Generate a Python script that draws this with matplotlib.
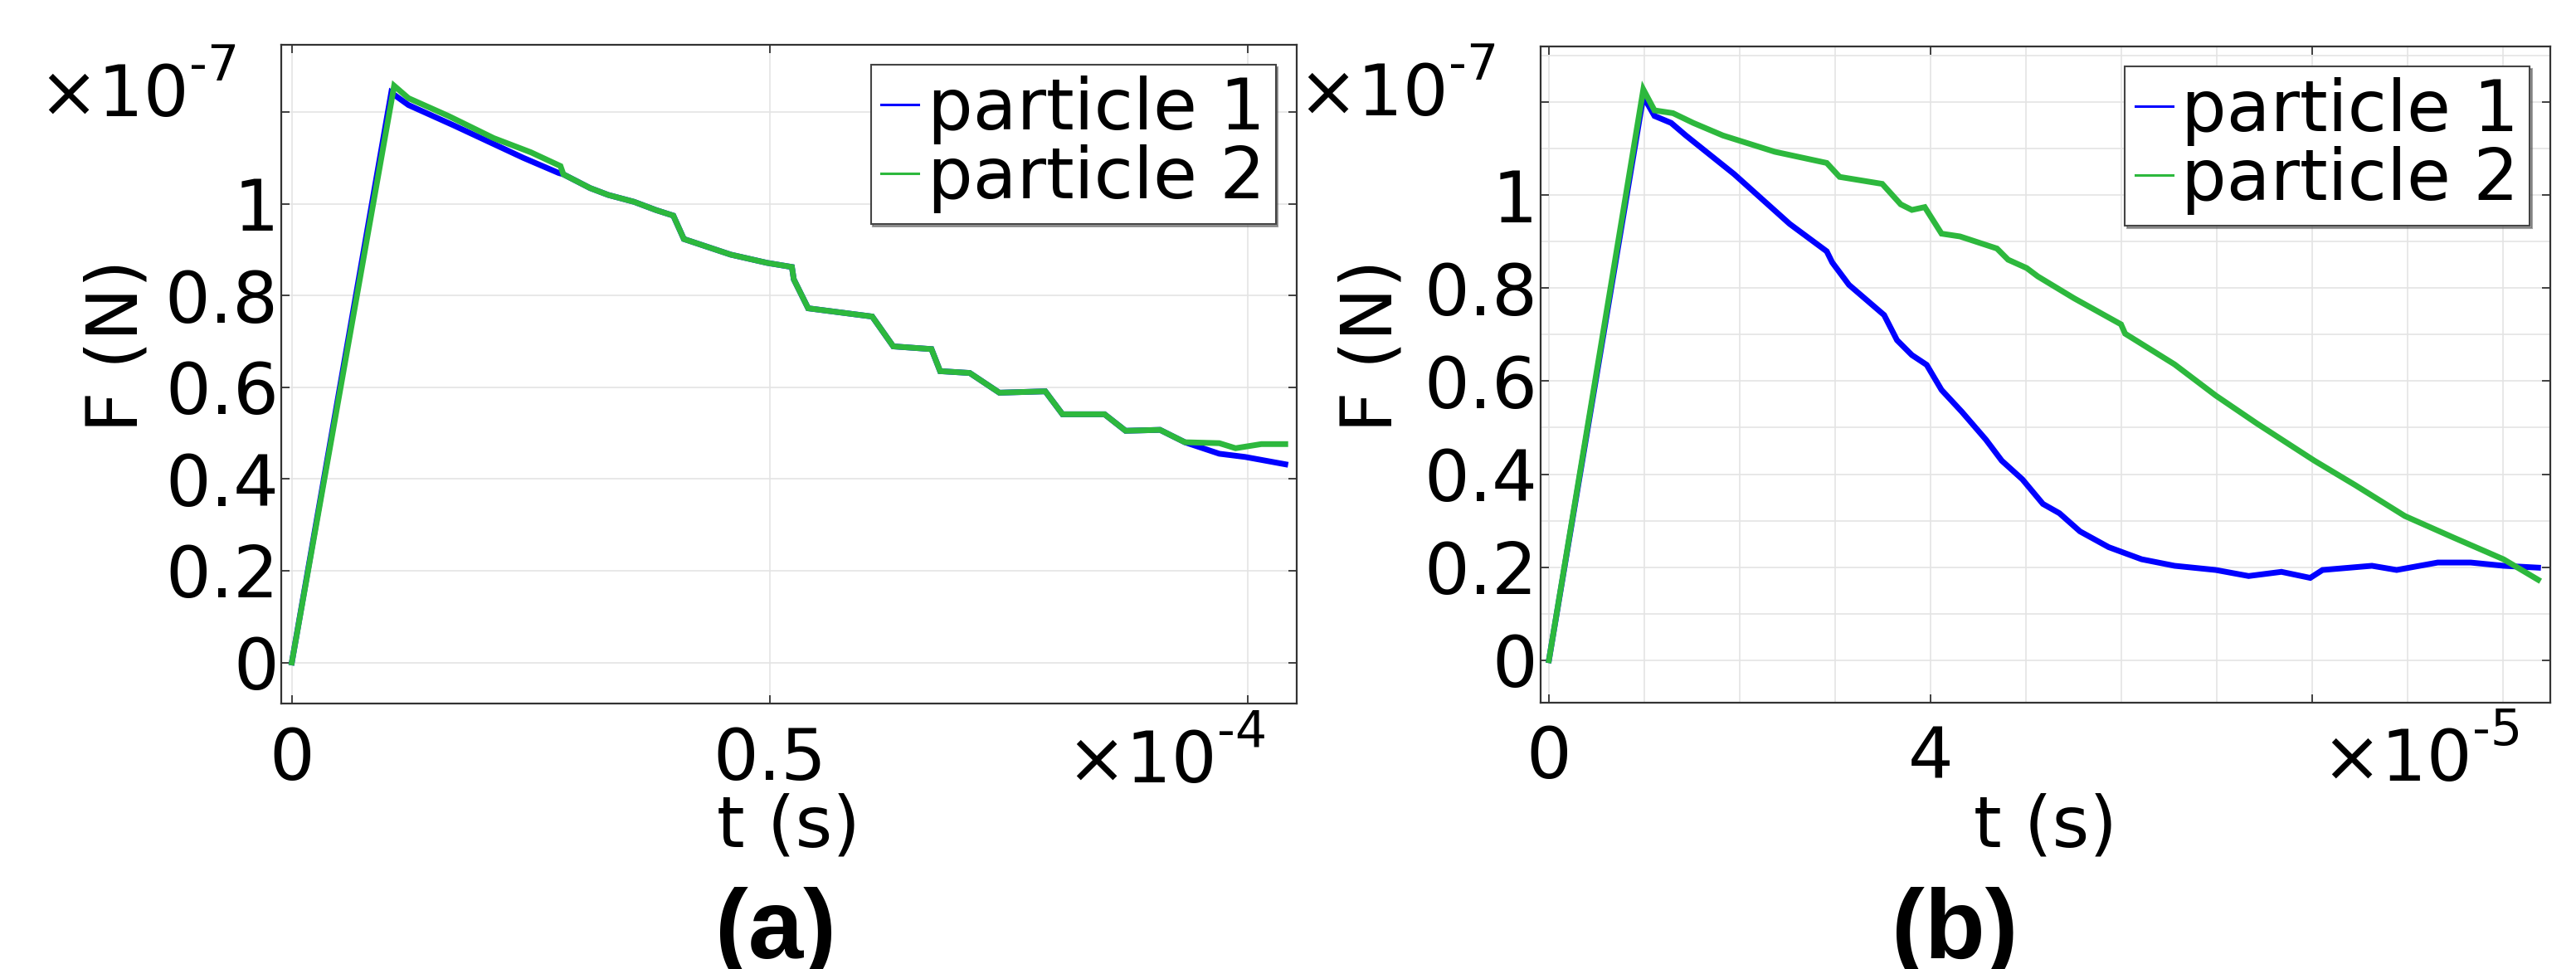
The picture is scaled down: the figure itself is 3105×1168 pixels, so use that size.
import matplotlib
matplotlib.use("Agg")
import matplotlib.pyplot as plt
from matplotlib.ticker import MultipleLocator

plt.rcParams['font.family'] = ['DejaVu Sans']

# ---------------- data (t in units of 1e-4 s for (a), 1e-5 s for (b); F in 1e-7 N)
a_t_p1 = [0, 0.104, 0.122, 0.170, 0.242, 0.279, 0.284, 0.312, 0.331, 0.358, 0.381, 0.399,
          0.410, 0.459, 0.497, 0.523, 0.525, 0.540, 0.607, 0.629, 0.669, 0.678, 0.709,
          0.740, 0.788, 0.806, 0.850, 0.872, 0.908, 0.934, 0.970, 0.997, 1.039]
a_F_p1 = [0, 1.242, 1.215, 1.170, 1.100, 1.067, 1.064, 1.034, 1.019, 1.004, 0.986, 0.974,
          0.923, 0.889, 0.871, 0.862, 0.835, 0.772, 0.754, 0.689, 0.683, 0.635, 0.631,
          0.588, 0.591, 0.541, 0.541, 0.505, 0.507, 0.480, 0.455, 0.448, 0.432]

a_t_p2 = [0, 0.107, 0.122, 0.164, 0.211, 0.250, 0.281, 0.284, 0.312, 0.331, 0.358, 0.381,
          0.399, 0.410, 0.459, 0.497, 0.523, 0.525, 0.540, 0.607, 0.629, 0.669, 0.678,
          0.709, 0.740, 0.788, 0.806, 0.850, 0.872, 0.908, 0.934, 0.970, 0.987, 1.014, 1.039]
a_F_p2 = [0, 1.257, 1.230, 1.191, 1.143, 1.112, 1.082, 1.064, 1.034, 1.019, 1.004, 0.986,
          0.974, 0.923, 0.889, 0.871, 0.862, 0.835, 0.772, 0.754, 0.689, 0.683, 0.635,
          0.631, 0.588, 0.591, 0.541, 0.541, 0.505, 0.507, 0.480, 0.478, 0.467, 0.476, 0.476]

b_t_p1 = [0, 0.990, 1.107, 1.282, 1.436, 1.942, 2.524, 2.913, 2.971, 3.146, 3.515, 3.650,
          3.806, 3.961, 4.117, 4.330, 4.583, 4.748, 4.964, 5.180, 5.353, 5.568, 5.870,
          6.215, 6.560, 6.992, 7.337, 7.681, 7.983, 8.112, 8.630, 8.889, 9.320, 9.665,
          10.010, 10.372]
b_F_p1 = [0, 1.212, 1.170, 1.155, 1.128, 1.045, 0.938, 0.879, 0.855, 0.807, 0.742, 0.688,
          0.656, 0.635, 0.581, 0.534, 0.474, 0.429, 0.389, 0.336, 0.316, 0.277, 0.243,
          0.217, 0.203, 0.194, 0.181, 0.190, 0.177, 0.194, 0.203, 0.194, 0.210, 0.210,
          0.203, 0.199]

b_t_p2 = [0, 0.990, 1.107, 1.301, 1.514, 1.825, 2.369, 2.913, 3.048, 3.495, 3.689, 3.806,
          3.941, 4.117, 4.311, 4.698, 4.815, 5.010, 5.127, 5.507, 5.999, 6.042, 6.560,
          6.992, 7.423, 8.026, 8.458, 8.975, 9.493, 10.010, 10.372]
b_F_p2 = [0, 1.227, 1.182, 1.176, 1.155, 1.128, 1.093, 1.069, 1.039, 1.024, 0.980, 0.968,
          0.974, 0.917, 0.911, 0.885, 0.861, 0.843, 0.825, 0.778, 0.722, 0.702, 0.636,
          0.569, 0.509, 0.429, 0.376, 0.310, 0.263, 0.217, 0.173]

series_labels = ["particle 1", "particle 2"]
a_xticks = [0, 0.5, 1.0]
a_xticklabels = ["0", "0.5", ""]
b_xticks = [0, 4, 8]
b_xticklabels = ["0", "4", ""]
yticks = [0, 0.2, 0.4, 0.6, 0.8, 1.0, 1.2]
yticklabels = ["0", "0.2", "0.4", "0.6", "0.8", "1", ""]

# ---------------- figure
W, H = 3105, 1168
fig = plt.figure(figsize=(W / 100, H / 100), dpi=100)
fig.patch.set_facecolor('white')

BLUE = '#0000ff'
GREEN = '#2db83d'
FS = 62

def px(x, y):
    return x / W, 1 - y / H

ax1 = fig.add_axes([339.3 / W, 1 - 848.3 / H, (1562.7 - 339.3) / W, (848.3 - 54) / H])
ax2 = fig.add_axes([1857 / W, 1 - 847 / H, (3074 - 1857) / W, (847 - 56) / H])

ax1.set_xlim(-0.0108, 1.0507)
ax1.set_ylim(-0.090, 1.3463)
ax2.set_xlim(-0.087, 10.50)
ax2.set_ylim(-0.0913, 1.3194)

for ax, (tp1, fp1, tp2, fp2), xt, xtl in [
        (ax1, (a_t_p1, a_F_p1, a_t_p2, a_F_p2), a_xticks, a_xticklabels),
        (ax2, (b_t_p1, b_F_p1, b_t_p2, b_F_p2), b_xticks, b_xticklabels)]:
    ax.plot(tp1, fp1, color=BLUE, lw=5, label=series_labels[0], solid_joinstyle='miter')
    ax.plot(tp2, fp2, color=GREEN, lw=5, label=series_labels[1], solid_joinstyle='miter')
    ax.set_xticks(xt)
    ax.set_xticklabels(xtl)
    ax.set_yticks(yticks)
    ax.set_yticklabels(yticklabels)
    ax.tick_params(axis='both', which='major', direction='in', length=7.5, width=1.3,
                   top=True, right=True, labelsize=FS, colors='#333333', labelcolor='black')
    ax.tick_params(axis='x', which='major', pad=19)
    ax.tick_params(axis='y', which='major', pad=2.5)
    for s in ax.spines.values():
        s.set_linewidth(1.6)
        s.set_color('#333333')
    ax.set_axisbelow(True)
    leg = ax.legend(loc='upper right', bbox_to_anchor=(0.9795, 0.9694), borderaxespad=0,
                    fontsize=FS, handlelength=0.52, handletextpad=0.12, borderpad=0.15,
                    labelspacing=0.0, fancybox=False, shadow=True, framealpha=1,
                    edgecolor='#444444')
    leg.get_frame().set_linewidth(1.5)
    for ln in leg.get_lines():
        ln.set_linewidth(2.2)

ax1.grid(True, which='major', color='#e4e4e4', lw=1.2)
ax2.xaxis.set_minor_locator(MultipleLocator(1))
ax2.yaxis.set_minor_locator(MultipleLocator(0.1))
ax2.tick_params(which='minor', length=0)
ax2.grid(True, which='both', color='#e4e4e4', lw=1.2)

# ---------------- exponent texts
def exponent(x_split, y_base, exp):
    fig.text(*px(x_split, y_base), "×10", fontsize=FS, ha='right', va='baseline')
    fig.text(*px(x_split, y_base - 43), exp, fontsize=FS * 0.7, ha='left', va='baseline')

exponent(228, 140, "-7")
exponent(1467, 943, "-4")
exponent(1746, 139, "-7")
exponent(2980, 941, "-5")

# ---------------- axis labels
fig.text(*px(142, 417), "F (N)", fontsize=FS, rotation=90, ha='center', va='center')
fig.text(*px(1654, 417), "F (N)", fontsize=FS, rotation=90, ha='center', va='center')
fig.text(*px(950.5, 1020), "t (s)", fontsize=FS, ha='center', va='baseline')
fig.text(*px(2465.5, 1020), "t (s)", fontsize=FS, ha='center', va='baseline')

# ---------------- panel labels
fig.text(*px(934.5, 1155), "(a)", fontsize=86, fontweight='bold',
         family='Liberation Sans', ha='center', va='baseline')
fig.text(*px(2356, 1155), "(b)", fontsize=86, fontweight='bold',
         family='Liberation Sans', ha='center', va='baseline')

fig.savefig("out.png", dpi=100, facecolor='white')
